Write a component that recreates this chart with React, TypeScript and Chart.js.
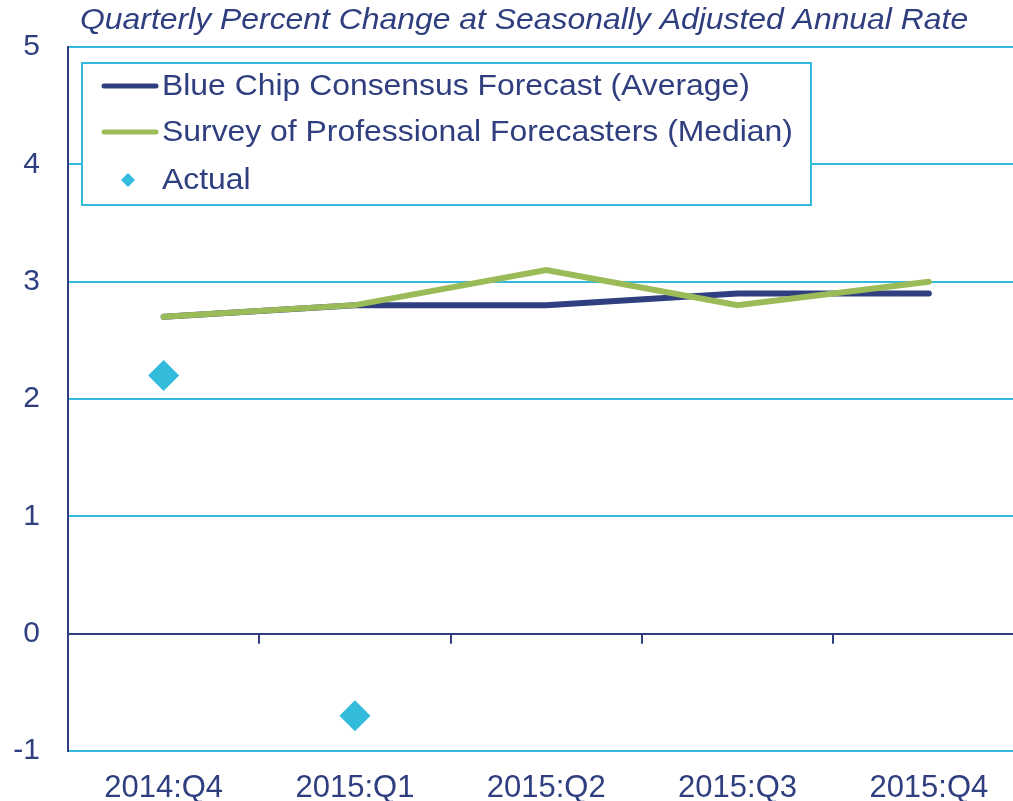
import React, { useEffect, useRef } from "react";
import { Chart, registerables } from "chart.js";

Chart.register(...registerables);

const categories = ["2014:Q4", "2015:Q1", "2015:Q2", "2015:Q3", "2015:Q4"];
const blueChip = [2.7, 2.8, 2.8, 2.9, 2.9];
const spf = [2.7, 2.8, 3.1, 2.8, 3.0];
const actual = [2.2, -0.7, null, null, null];
const yMin = -1;
const yMax = 5;
const yStep = 1;
const titleText = "Quarterly Percent Change at Seasonally Adjusted Annual Rate";
const seriesLabels = [
  "Blue Chip Consensus Forecast (Average)",
  "Survey of Professional Forecasters (Median)",
  "Actual",
];

const NAVY = "#2f3e7e";
const LINE_NAVY = "#2f3f7f";
const GREEN = "#9bbb59";
const CYAN = "#33bbdb";
const FONT = "'Liberation Sans', Arial, sans-serif";
const STRETCH = 1.063;

function stretchedText(ctx: any, text: string, x: number, y: number) {
  ctx.save();
  ctx.translate(x, y);
  ctx.scale(STRETCH, 1);
  ctx.fillText(text, 0, 0);
  ctx.restore();
}

const overlayPlugin = {
  id: "overlay",
  afterDraw(chart: any) {
    const ctx = chart.ctx;
    const xs = chart.scales.x;
    const ys = chart.scales.y;
    ctx.save();
    // tick marks on the zero line between categories
    const y0 = ys.getPixelForValue(0);
    ctx.strokeStyle = NAVY;
    ctx.lineWidth = 2;
    for (let i = 0; i < categories.length - 1; i++) {
      const x = Math.round((xs.getPixelForValue(i) + xs.getPixelForValue(i + 1)) / 2);
      ctx.beginPath();
      ctx.moveTo(x, y0);
      ctx.lineTo(x, y0 + 10);
      ctx.stroke();
    }
    // title
    ctx.fillStyle = NAVY;
    ctx.font = `italic 30px ${FONT}`;
    ctx.textAlign = "left";
    ctx.textBaseline = "middle";
    stretchedText(ctx, titleText, 80, 21);
    // legend box
    const bx = 82, by = 63, bw = 729, bh = 142;
    ctx.fillStyle = "#ffffff";
    ctx.fillRect(bx, by, bw, bh);
    ctx.strokeStyle = CYAN;
    ctx.lineWidth = 2;
    ctx.strokeRect(bx, by, bw, bh);
    const rows = [86, 132, 180];
    const ds = chart.data.datasets;
    ctx.font = `30px ${FONT}`;
    ds.forEach((d: any, i: number) => {
      const ry = rows[i];
      if (d.showLine === false) {
        ctx.fillStyle = d.backgroundColor;
        ctx.beginPath();
        const cx = 128, r = 7;
        ctx.moveTo(cx - r, ry);
        ctx.lineTo(cx, ry - r);
        ctx.lineTo(cx + r, ry);
        ctx.lineTo(cx, ry + r);
        ctx.closePath();
        ctx.fill();
      } else {
        ctx.strokeStyle = d.borderColor;
        ctx.lineWidth = 5;
        ctx.lineCap = "round";
        ctx.beginPath();
        ctx.moveTo(104, ry);
        ctx.lineTo(156, ry);
        ctx.stroke();
      }
      ctx.fillStyle = NAVY;
      ctx.textBaseline = "middle";
      stretchedText(ctx, d.label, 162, ry + 1);
    });
    ctx.restore();
  },
};

export default function App() {
  const ref = useRef<HTMLCanvasElement | null>(null);
  useEffect(() => {
    if (!ref.current) return;
    const chart = new Chart(ref.current, {
      type: "line",
      data: {
        labels: categories,
        datasets: [
          {
            label: seriesLabels[0],
            data: blueChip,
            borderColor: LINE_NAVY,
            backgroundColor: LINE_NAVY,
            borderWidth: 6,
            pointRadius: 0,
            borderCapStyle: "round",
            tension: 0,
            order: 3,
          },
          {
            label: seriesLabels[1],
            data: spf,
            borderColor: GREEN,
            backgroundColor: GREEN,
            borderWidth: 6,
            pointRadius: 0,
            borderCapStyle: "round",
            tension: 0,
            order: 2,
          },
          {
            label: seriesLabels[2],
            data: actual,
            showLine: false,
            borderColor: CYAN,
            backgroundColor: CYAN,
            pointStyle: "rectRot",
            pointRadius: 15.5,
            pointBorderWidth: 0,
            order: 1,
          },
        ],
      } as any,
      options: {
        animation: false,
        responsive: false,
        devicePixelRatio: 1,
        layout: { padding: { left: 0, right: 12, top: 47, bottom: 0 } },
        plugins: {
          legend: { display: false },
          title: { display: false },
          tooltip: { enabled: false },
        },
        scales: {
          x: {
            type: "category",
            offset: true,
            grid: { display: false, drawTicks: false },
            border: { display: false },
            ticks: {
              color: NAVY,
              font: { family: FONT, size: 31 },
              padding: 19,
              maxRotation: 0,
              autoSkip: false,
            },
            afterFit: (s: any) => {
              s.height = 50;
            },
          },
          y: {
            min: yMin,
            max: yMax,
            ticks: {
              stepSize: yStep,
              color: NAVY,
              font: { family: FONT, size: 30 },
              padding: 28,
            },
            grid: {
              drawTicks: false,
              lineWidth: 2,
              color: (c: any) => (c.tick && c.tick.value === 0 ? NAVY : CYAN),
            },
            border: { display: true, color: NAVY, width: 2 },
            afterFit: (s: any) => {
              s.width = 68;
            },
          },
        },
      } as any,
      plugins: [overlayPlugin],
    });
    return () => chart.destroy();
  }, []);
  return (
    <div
      style={{
        position: "absolute",
        left: 0,
        top: 0,
        width: 1013,
        height: 801,
        overflow: "hidden",
        background: "#ffffff",
      }}
    >
      <canvas ref={ref} width={1040} height={801} style={{ display: "block" }} />
    </div>
  );
}
